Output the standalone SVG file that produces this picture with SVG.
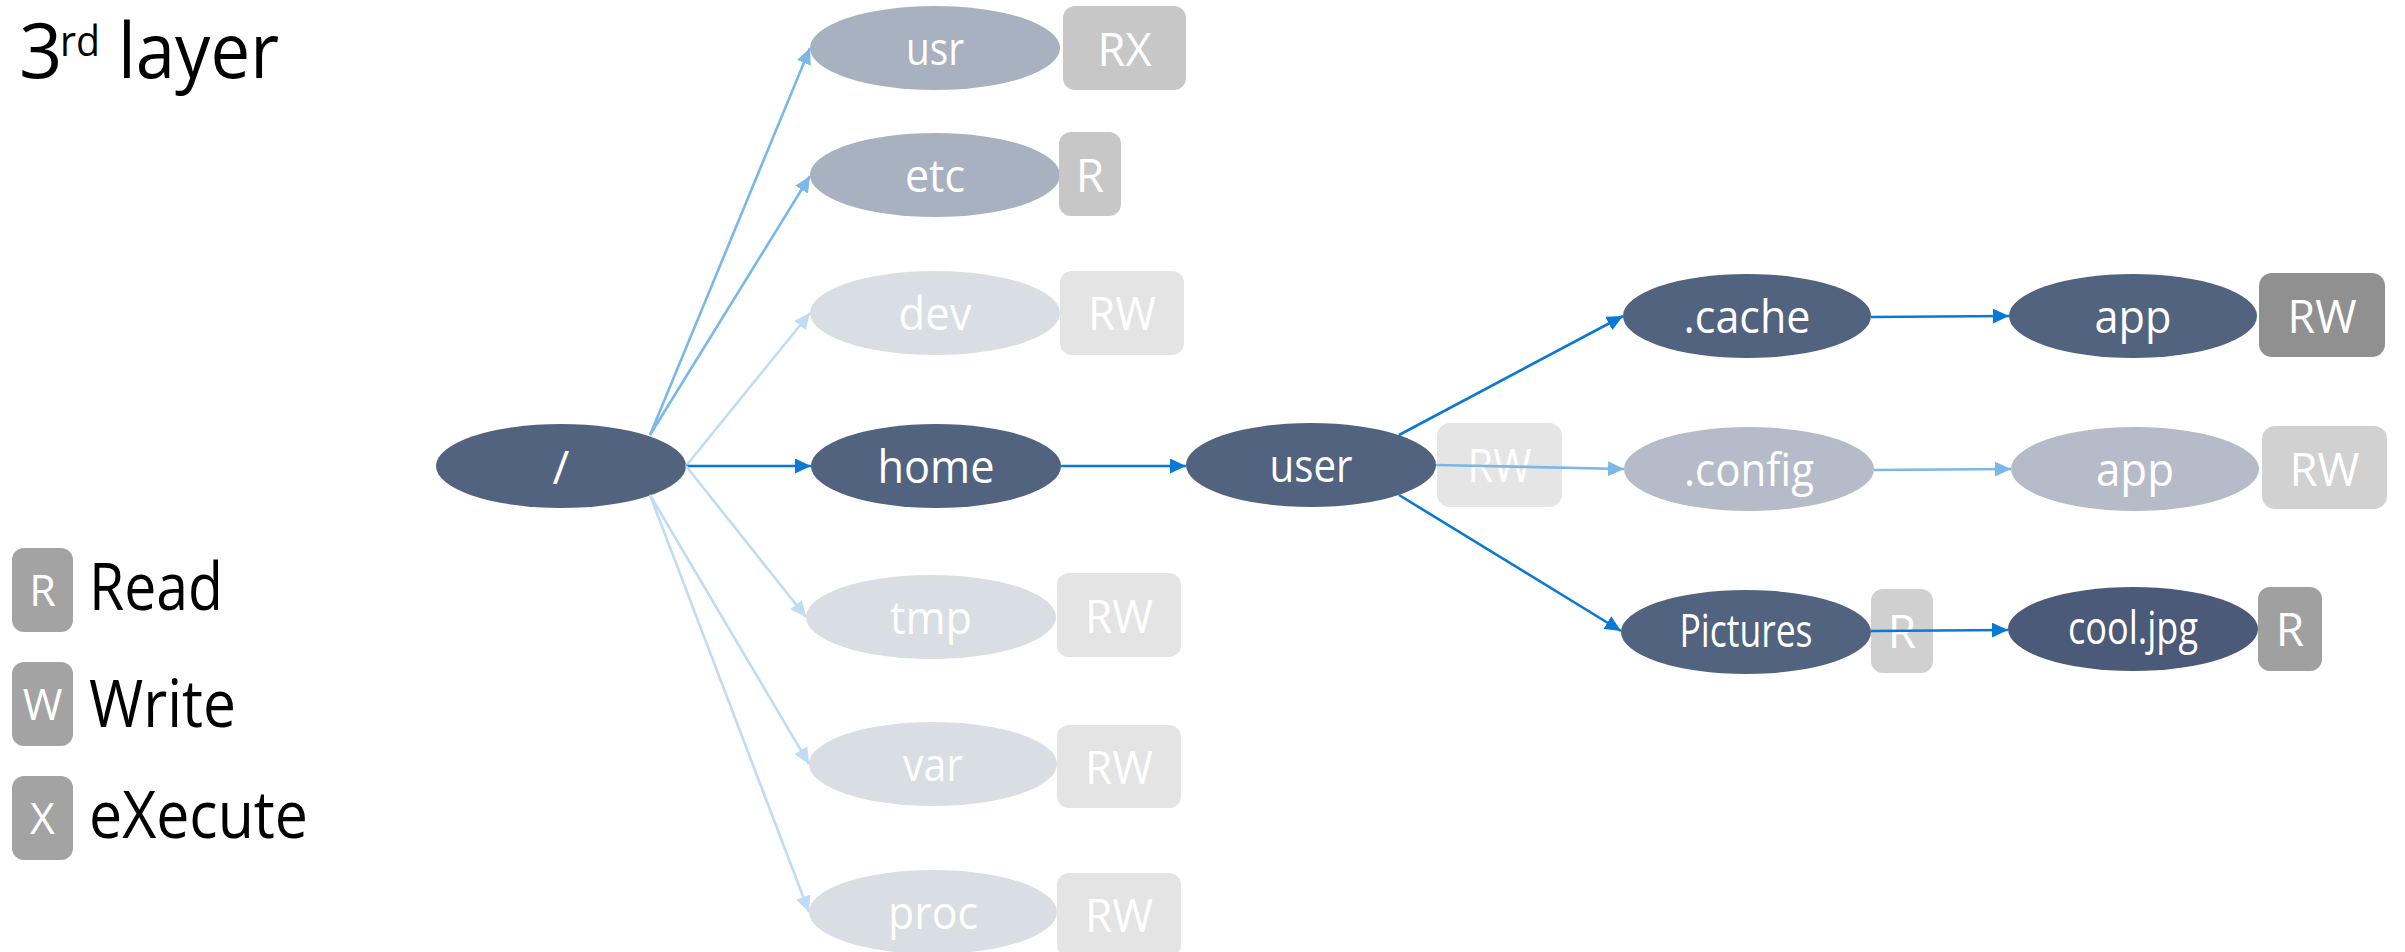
<svg xmlns="http://www.w3.org/2000/svg" width="2405" height="952" viewBox="0 0 2405 952">
  <style>
    text { font-family: "Open Sans", "Noto Sans", "Liberation Sans", sans-serif; }
    .lbl { fill: #ffffff; font-size: 46px; text-anchor: middle; }
    .perm { fill: #ffffff; font-size: 46px; text-anchor: middle; }
    .dark { fill: #52637f; }
    .mid { fill: #a8b1c0; }
    .faint { fill: #d9dde4; }
    .soft { fill: #b5bbc8; }
    .line { fill: none; stroke-width: 2.6; }
    .c-dark { stroke: #0a78d7; }
    .c-mid { stroke: #7ab8e8; }
    .c-light { stroke: #bfdcf5; }
    .legend { fill: #000000; font-size: 66px; }
    .lbox { fill: #a3a3a3; }
    .lkey { fill: #ffffff; font-size: 43px; text-anchor: middle; }
  </style>
  <defs>
    <marker id="ah-dark" markerUnits="userSpaceOnUse" viewBox="0 0 16 15" markerWidth="16" markerHeight="15" refX="16" refY="7.5" orient="auto">
      <path d="M0 0 L16 7.5 L0 15 Z" fill="#0a78d7"/>
    </marker>
    <marker id="ah-mid" markerUnits="userSpaceOnUse" viewBox="0 0 16 15" markerWidth="16" markerHeight="15" refX="16" refY="7.5" orient="auto">
      <path d="M0 0 L16 7.5 L0 15 Z" fill="#7ab8e8"/>
    </marker>
    <marker id="ah-light" markerUnits="userSpaceOnUse" viewBox="0 0 16 15" markerWidth="16" markerHeight="15" refX="16" refY="7.5" orient="auto">
      <path d="M0 0 L16 7.5 L0 15 Z" fill="#bfdcf5"/>
    </marker>
  </defs>

  <rect width="2405" height="952" fill="#ffffff"/>

  <!-- title -->
  <g id="title">
    <text x="19" y="78" font-size="76" fill="#000">3</text>
    <text x="60" y="56" font-size="42" fill="#000" textLength="40" lengthAdjust="spacingAndGlyphs">rd</text>
    <text x="118" y="78" font-size="76" fill="#000" textLength="161" lengthAdjust="spacingAndGlyphs">layer</text>
  </g>

  <!-- legend -->
  <g id="legend-read">
    <rect class="lbox" x="12" y="548" width="61" height="84" rx="12"/>
    <text class="lkey" x="42.5" y="606">R</text>
    <text class="legend" x="89" y="610" textLength="134" lengthAdjust="spacingAndGlyphs">Read</text>
  </g>
  <g id="legend-write">
    <rect class="lbox" x="12" y="662" width="61" height="84" rx="12"/>
    <text class="lkey" x="42.5" y="720">W</text>
    <text class="legend" x="89" y="727" textLength="147" lengthAdjust="spacingAndGlyphs">Write</text>
  </g>
  <g id="legend-execute">
    <rect class="lbox" x="12" y="776" width="61" height="84" rx="12"/>
    <text class="lkey" x="42.5" y="834">X</text>
    <text class="legend" x="89" y="838" textLength="219" lengthAdjust="spacingAndGlyphs">eXecute</text>
  </g>

  <!-- tree nodes -->
  <g id="node-root">
    <ellipse class="dark" cx="561" cy="466" rx="125" ry="42"/>
    <text class="lbl" x="561" y="484">/</text>
  </g>

  <g id="node-usr">
    <ellipse class="mid" cx="935" cy="48" rx="125" ry="42"/>
    <text class="lbl" x="935" y="65" textLength="58" lengthAdjust="spacingAndGlyphs">usr</text>
    <rect x="1063" y="6" width="123" height="84" rx="12" fill="#c7c7c7"/>
    <text class="perm" x="1124.5" y="66" textLength="54" lengthAdjust="spacingAndGlyphs">RX</text>
  </g>

  <g id="node-etc">
    <ellipse class="mid" cx="935" cy="175" rx="125" ry="42"/>
    <text class="lbl" x="935" y="192" textLength="60" lengthAdjust="spacingAndGlyphs">etc</text>
    <rect x="1059" y="132" width="62" height="84" rx="12" fill="#c7c7c7"/>
    <text class="perm" x="1090" y="192">R</text>
  </g>

  <g id="node-dev">
    <ellipse class="faint" cx="935" cy="313" rx="125" ry="42"/>
    <text class="lbl" x="935" y="330" textLength="73" lengthAdjust="spacingAndGlyphs">dev</text>
    <rect x="1060" y="271" width="124" height="84" rx="12" fill="#e4e4e4"/>
    <text class="perm" x="1122" y="330" textLength="68" lengthAdjust="spacingAndGlyphs">RW</text>
  </g>

  <g id="node-home">
    <ellipse class="dark" cx="936" cy="466" rx="125" ry="42"/>
    <text class="lbl" x="936" y="483" textLength="117" lengthAdjust="spacingAndGlyphs">home</text>
  </g>

  <g id="node-tmp">
    <ellipse class="faint" cx="931" cy="617" rx="125" ry="42"/>
    <text class="lbl" x="931" y="634" textLength="82" lengthAdjust="spacingAndGlyphs">tmp</text>
    <rect x="1057" y="573" width="124" height="84" rx="12" fill="#e4e4e4"/>
    <text class="perm" x="1119" y="633" textLength="68" lengthAdjust="spacingAndGlyphs">RW</text>
  </g>

  <g id="node-var">
    <ellipse class="faint" cx="933" cy="764" rx="124" ry="42"/>
    <text class="lbl" x="933" y="781" textLength="60" lengthAdjust="spacingAndGlyphs">var</text>
    <rect x="1057" y="725" width="124" height="83" rx="12" fill="#e4e4e4"/>
    <text class="perm" x="1119" y="784" textLength="68" lengthAdjust="spacingAndGlyphs">RW</text>
  </g>

  <g id="node-proc">
    <ellipse class="faint" cx="933" cy="912" rx="124" ry="42"/>
    <text class="lbl" x="933" y="929" textLength="90" lengthAdjust="spacingAndGlyphs">proc</text>
    <rect x="1057" y="873" width="124" height="84" rx="12" fill="#e4e4e4"/>
    <text class="perm" x="1119" y="932" textLength="68" lengthAdjust="spacingAndGlyphs">RW</text>
  </g>

  <g id="node-user">
    <ellipse class="dark" cx="1311" cy="465" rx="125" ry="42"/>
    <text class="lbl" x="1311" y="482" textLength="83" lengthAdjust="spacingAndGlyphs">user</text>
    <rect x="1437" y="423" width="125" height="84" rx="13" fill="#e5e5e5"/>
    <text class="perm" x="1499.5" y="482" textLength="64" lengthAdjust="spacingAndGlyphs">RW</text>
  </g>

  <g id="node-cache">
    <ellipse class="dark" cx="1747" cy="316" rx="124" ry="42"/>
    <text class="lbl" x="1747" y="333" textLength="127" lengthAdjust="spacingAndGlyphs">.cache</text>
  </g>

  <g id="node-cache-app">
    <ellipse class="dark" cx="2133" cy="316" rx="124" ry="42"/>
    <text class="lbl" x="2133" y="333" textLength="77" lengthAdjust="spacingAndGlyphs">app</text>
    <rect x="2259" y="273" width="126" height="84" rx="13" fill="#909090"/>
    <text class="perm" x="2322" y="333" textLength="69" lengthAdjust="spacingAndGlyphs">RW</text>
  </g>

  <g id="node-config">
    <ellipse class="soft" cx="1749" cy="469" rx="125" ry="42"/>
    <text class="lbl" x="1749" y="486" textLength="130" lengthAdjust="spacingAndGlyphs">.config</text>
  </g>

  <g id="node-config-app">
    <ellipse class="soft" cx="2135" cy="469" rx="124" ry="42"/>
    <text class="lbl" x="2135" y="486" textLength="78" lengthAdjust="spacingAndGlyphs">app</text>
    <rect x="2262" y="426" width="125" height="83" rx="13" fill="#d1d1d1"/>
    <text class="perm" x="2324.5" y="486" textLength="70" lengthAdjust="spacingAndGlyphs">RW</text>
  </g>

  <g id="node-pictures">
    <ellipse class="dark" cx="1746" cy="632" rx="125" ry="42"/>
    <text class="lbl" x="1746" y="647" font-size="42" textLength="133" lengthAdjust="spacingAndGlyphs">Pictures</text>
    <rect x="1871" y="589" width="62" height="84" rx="12" fill="#d0d0d0"/>
    <text class="perm" x="1902" y="648" font-size="44">R</text>
  </g>

  <g id="node-cooljpg">
    <ellipse cx="2133" cy="629" rx="125" ry="42" fill="#4a5a78"/>
    <text class="lbl" x="2133" y="644" font-size="40" textLength="130" lengthAdjust="spacingAndGlyphs">cool.jpg</text>
    <rect x="2258" y="587" width="64" height="84" rx="12" fill="#a0a0a0"/>
    <text class="perm" x="2290" y="646" font-size="44">R</text>
  </g>

  <!-- connectors -->
  <g id="connectors">
    <path class="line c-mid" d="M650 435 L810 48" marker-end="url(#ah-mid)"/>
    <path class="line c-mid" d="M650 435 L810 176" marker-end="url(#ah-mid)"/>
    <path class="line c-light" d="M686 466 L810 313" marker-end="url(#ah-light)"/>
    <path class="line c-dark" d="M686 466 L811 466" marker-end="url(#ah-dark)"/>
    <path class="line c-light" d="M686 466 L806 617" marker-end="url(#ah-light)"/>
    <path class="line c-light" d="M650 495 L809 764" marker-end="url(#ah-light)"/>
    <path class="line c-light" d="M650 495 L809 912" marker-end="url(#ah-light)"/>
    <path class="line c-dark" d="M1061 466 L1186 466" marker-end="url(#ah-dark)"/>
    <path class="line c-dark" d="M1399 435 L1623 316" marker-end="url(#ah-dark)"/>
    <path class="line c-mid" d="M1436 465 L1624 469" marker-end="url(#ah-mid)"/>
    <path class="line c-dark" d="M1399 495 L1621 631" marker-end="url(#ah-dark)"/>
    <path class="line c-dark" d="M1871 317 L2009 316" marker-end="url(#ah-dark)"/>
    <path class="line c-mid" d="M1874 470 L2011 469" marker-end="url(#ah-mid)"/>
    <path class="line c-dark" d="M1871 631 L2008 630" marker-end="url(#ah-dark)"/>
  </g>
</svg>
